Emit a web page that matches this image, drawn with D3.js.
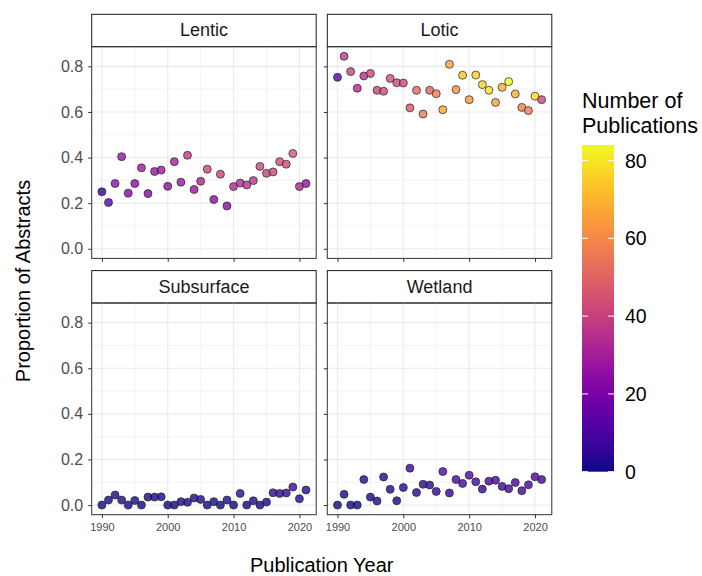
<!DOCTYPE html>
<meta charset="utf-8">
<style>
  body { margin: 0; background: #fff; }
  text { font-family: "Liberation Sans", Arial, sans-serif; }
  .grid line { stroke: #ebebeb; }
  .axis path { display: none; }
  .axis line { stroke: #333; }
  .axis text { fill: #4d4d4d; font-family: "Liberation Sans", Arial, sans-serif; }
</style>
<svg width="702" height="576"></svg>
<script src="https://d3js.org/d3.v7.min.js"></script>
<script>

  var years = [1990, 1991, 1992, 1993, 1994, 1995, 1996, 1997, 1998, 1999,
    2000, 2001, 2002, 2003, 2004, 2005, 2006, 2007, 2008, 2009,
    2010, 2011, 2012, 2013, 2014, 2015, 2016, 2017, 2018, 2019,
    2020, 2021];

  var habitats = ["Lentic", "Lotic", "Subsurface", "Wetland"];

  // proportion of abstracts per year
  var lenticProp = [0.250, 0.203, 0.286, 0.404, 0.244, 0.286, 0.355, 0.242, 0.339, 0.345,
    0.274, 0.382, 0.292, 0.410, 0.260, 0.296, 0.349, 0.216, 0.327, 0.188,
    0.273, 0.288, 0.280, 0.299, 0.361, 0.331, 0.337, 0.382, 0.371, 0.418,
    0.273, 0.286];
  var loticProp = [0.752, 0.844, 0.777, 0.704, 0.758, 0.769, 0.695, 0.691, 0.747, 0.728,
    0.727, 0.618, 0.695, 0.591, 0.695, 0.680, 0.610, 0.809, 0.698, 0.761,
    0.654, 0.762, 0.720, 0.695, 0.642, 0.708, 0.733, 0.679, 0.620, 0.606,
    0.669, 0.654];
  var subsurfaceProp = [0.000, 0.022, 0.044, 0.022, 0.000, 0.020, 0.000, 0.035, 0.035, 0.036,
    0.000, 0.000, 0.015, 0.012, 0.031, 0.025, 0.000, 0.015, 0.000, 0.022,
    0.000, 0.051, 0.000, 0.019, 0.000, 0.013, 0.054, 0.051, 0.053, 0.079,
    0.028, 0.066];
  var wetlandProp = [0.000, 0.047, 0.000, 0.000, 0.112, 0.035, 0.018, 0.123, 0.069, 0.019,
    0.077, 0.162, 0.055, 0.091, 0.088, 0.060, 0.147, 0.053, 0.112, 0.095,
    0.131, 0.102, 0.070, 0.105, 0.109, 0.082, 0.072, 0.099, 0.063, 0.089,
    0.124, 0.112];

  // number of publications per year
  var lenticCount = [6, 12, 24, 26, 22, 24, 28, 22, 27, 28,
    25, 30, 27, 37, 27, 32, 42, 24, 40, 23,
    32, 34, 35, 36, 42, 40, 41, 43, 42, 46,
    32, 26];
  var loticCount = [12, 38, 40, 33, 34, 42, 41, 42, 44, 42,
    42, 46, 51, 55, 50, 57, 66, 65, 61, 73,
    63, 75, 76, 79, 65, 69, 84, 68, 58, 57,
    78, 42];
  var subsurfaceCount = [0, 1, 2, 1, 0, 1, 0, 1, 1, 1,
    0, 0, 1, 1, 2, 2, 0, 1, 0, 2,
    0, 5, 0, 2, 0, 1, 5, 5, 5, 8,
    3, 5];
  var wetlandCount = [0, 1, 0, 0, 3, 1, 1, 4, 2, 1,
    3, 7, 3, 5, 5, 4, 11, 4, 9, 8,
    11, 9, 6, 10, 10, 8, 7, 10, 7, 9,
    11, 9];

  var yTicks = [0, 0.2, 0.4, 0.6, 0.8];
  var yMinor = [0.1, 0.3, 0.5, 0.7];
  var xTicks = [1990, 2000, 2010, 2020];
  var xMinor = [1995, 2005, 2015];
  var legendTicks = [0, 20, 40, 60, 80];

  var panels = [
    { name: habitats[0], prop: lenticProp, count: lenticCount },
    { name: habitats[1], prop: loticProp, count: loticCount },
    { name: habitats[2], prop: subsurfaceProp, count: subsurfaceCount },
    { name: habitats[3], prop: wetlandProp, count: wetlandCount }
  ];

  var svg = d3.select("svg");

  var colX = [91.7, 327.3],
    rowY = [14.3, 270.6],
    panelW = 224.5,
    stripH = 32.4,
    plotH = 211.7;

  var allProp = lenticProp.concat(loticProp, subsurfaceProp, wetlandProp);
  var allCount = lenticCount.concat(loticCount, subsurfaceCount, wetlandCount);
  var yMax = d3.max(allProp), cMax = d3.max(allCount);
  var xMin = d3.min(years), xMax = d3.max(years), xPad = (xMax - xMin) * 0.05;

  var x = d3.scaleLinear().domain([xMin - xPad, xMax + xPad]).range([0, panelW]);
  var y = d3.scaleLinear().domain([-0.05 * yMax, 1.05 * yMax]).range([plotH, 0]);
  var color = d3.scaleSequential(d3.interpolatePlasma).domain([0, cMax]);

  panels.forEach(function (p, i) {
    var col = i % 2, row = Math.floor(i / 2);
    var g = svg.append("g")
      .attr("transform", "translate(" + colX[col] + "," + rowY[row] + ")");

    // strip
    g.append("rect")
      .attr("width", panelW).attr("height", stripH)
      .attr("fill", "#fff").attr("stroke", "#1a1a1a").attr("stroke-width", 1);
    g.append("text")
      .attr("x", panelW / 2).attr("y", stripH / 2)
      .attr("text-anchor", "middle").attr("dominant-baseline", "central")
      .attr("font-size", "18px").attr("fill", "#1a1a1a")
      .text(p.name);

    var plot = g.append("g").attr("transform", "translate(0," + stripH + ")");

    var grid = plot.append("g").attr("class", "grid");
    grid.selectAll(".ymin").data(yMinor).enter().append("line")
      .attr("x1", 0).attr("x2", panelW)
      .attr("y1", function (d) { return y(d); }).attr("y2", function (d) { return y(d); })
      .attr("stroke-width", 0.6);
    grid.selectAll(".xmin").data(xMinor).enter().append("line")
      .attr("y1", 0).attr("y2", plotH)
      .attr("x1", function (d) { return x(d); }).attr("x2", function (d) { return x(d); })
      .attr("stroke-width", 0.6);
    grid.selectAll(".ymaj").data(yTicks).enter().append("line")
      .attr("x1", 0).attr("x2", panelW)
      .attr("y1", function (d) { return y(d); }).attr("y2", function (d) { return y(d); })
      .attr("stroke-width", 1.1);
    grid.selectAll(".xmaj").data(xTicks).enter().append("line")
      .attr("y1", 0).attr("y2", plotH)
      .attr("x1", function (d) { return x(d); }).attr("x2", function (d) { return x(d); })
      .attr("stroke-width", 1.1);

    // axes
    var yAxis = d3.axisLeft(y).tickValues(yTicks).tickSize(3.5).tickPadding(5)
      .tickFormat(col === 0 ? d3.format(".1f") : "");
    plot.append("g").attr("class", "axis").call(yAxis)
      .selectAll("text").attr("font-size", "16px");

    var xAxis = d3.axisBottom(x).tickValues(xTicks).tickSize(3.5).tickPadding(5)
      .tickFormat(row === 1 ? d3.format("d") : "");
    plot.append("g").attr("class", "axis")
      .attr("transform", "translate(0," + plotH + ")")
      .call(xAxis)
      .selectAll("text").attr("font-size", "11px");

    plot.append("rect")
      .attr("width", panelW).attr("height", plotH)
      .attr("fill", "none").attr("stroke", "#333").attr("stroke-width", 1);

    // points
    plot.selectAll("circle")
      .data(years.map(function (yr, k) { return { year: yr, prop: p.prop[k], count: p.count[k] }; }))
      .enter().append("circle")
      .attr("cx", function (d) { return x(d.year); })
      .attr("cy", function (d) { return y(d.prop); })
      .attr("r", 4)
      .attr("fill", function (d) { return color(d.count); })
      .attr("fill-opacity", 0.8)
      .attr("stroke", "#222")
      .attr("stroke-width", 0.7);
  });

  // axis titles
  svg.append("text")
    .attr("transform", "translate(23,281) rotate(-90)")
    .attr("text-anchor", "middle").attr("dominant-baseline", "central")
    .attr("font-size", "20px").attr("fill", "#000")
    .text("Proportion of Abstracts");

  svg.append("text")
    .attr("x", (colX[0] + colX[1] + panelW) / 2).attr("y", 572)
    .attr("text-anchor", "middle")
    .attr("font-size", "20px").attr("fill", "#000")
    .text("Publication Year");

  // legend
  var barX = 582, barW = 32, barTop = 145, barBottom = 471.7;
  var ly = d3.scaleLinear().domain([0, cMax]).range([barBottom, barTop]);

  var grad = svg.append("defs").append("linearGradient")
    .attr("id", "plasma").attr("x1", 0).attr("y1", 1).attr("x2", 0).attr("y2", 0);
  d3.range(0, 1.0001, 0.05).forEach(function (t) {
    grad.append("stop").attr("offset", t).attr("stop-color", d3.interpolatePlasma(t));
  });

  svg.append("text")
    .attr("x", barX).attr("y", 108)
    .attr("font-size", "21.5px").attr("fill", "#000")
    .text("Number of");
  svg.append("text")
    .attr("x", barX).attr("y", 133)
    .attr("font-size", "21.5px").attr("fill", "#000")
    .text("Publications");

  svg.append("rect")
    .attr("x", barX).attr("y", barTop)
    .attr("width", barW).attr("height", barBottom - barTop)
    .attr("fill", "url(#plasma)");

  var lt = svg.append("g");
  lt.selectAll(".tl").data(legendTicks).enter().append("line")
    .attr("x1", barX).attr("x2", barX + 6)
    .attr("y1", function (d) { return ly(d); }).attr("y2", function (d) { return ly(d); })
    .attr("stroke", "#fff").attr("stroke-width", 1);
  lt.selectAll(".tr").data(legendTicks).enter().append("line")
    .attr("x1", barX + barW - 6).attr("x2", barX + barW)
    .attr("y1", function (d) { return ly(d); }).attr("y2", function (d) { return ly(d); })
    .attr("stroke", "#fff").attr("stroke-width", 1);
  lt.selectAll("text").data(legendTicks).enter().append("text")
    .attr("x", 625)
    .attr("y", function (d) { return ly(d); })
    .attr("dominant-baseline", "central")
    .attr("font-size", "19.5px").attr("fill", "#000")
    .text(function (d) { return d; });

</script>
